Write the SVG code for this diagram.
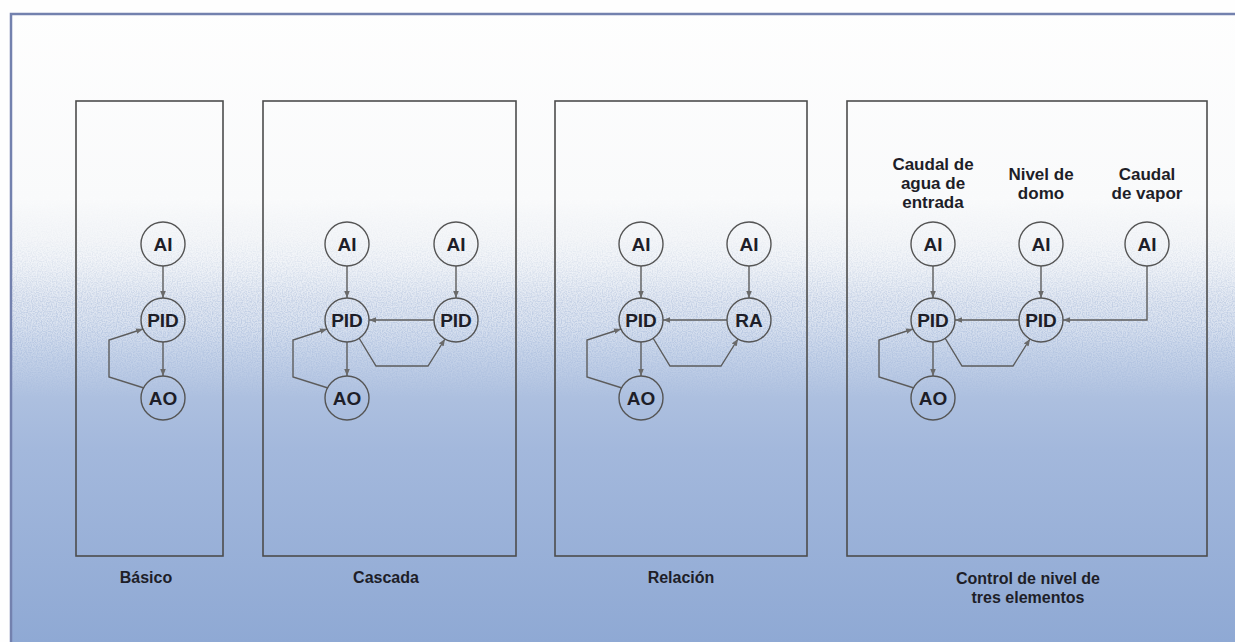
<svg xmlns="http://www.w3.org/2000/svg" width="1235" height="642" viewBox="0 0 1235 642">
<defs>
<linearGradient id="bg" x1="0" y1="0" x2="0" y2="642" gradientUnits="userSpaceOnUse">
<stop offset="0" stop-color="#fefefe"/>
<stop offset="0.31" stop-color="#f9fafb"/>
<stop offset="0.37" stop-color="#eef1f5"/>
<stop offset="0.42" stop-color="#dce3ee"/>
<stop offset="0.47" stop-color="#c6d2e6"/>
<stop offset="0.55" stop-color="#b5c6e2"/>
<stop offset="0.7" stop-color="#a3b8dc"/>
<stop offset="1" stop-color="#8fa9d4"/>
</linearGradient>
<linearGradient id="bandG" x1="0" y1="0" x2="0" y2="642" gradientUnits="userSpaceOnUse">
<stop offset="0.3" stop-color="#fff" stop-opacity="0"/>
<stop offset="0.4" stop-color="#fff" stop-opacity="1"/>
<stop offset="0.5" stop-color="#fff" stop-opacity="0.8"/>
<stop offset="0.62" stop-color="#fff" stop-opacity="0"/>
</linearGradient>
<mask id="bandM"><rect x="0" y="0" width="1235" height="642" fill="url(#bandG)"/></mask>
<filter id="speck" x="0" y="0" width="100%" height="100%">
<feTurbulence type="fractalNoise" baseFrequency="0.8" numOctaves="1" seed="4" result="n"/>
<feColorMatrix in="n" type="matrix" values="0 0 0 0 1  0 0 0 0 1  0 0 0 0 1  0 0 0 -3.2 2.2"/>
</filter>
<marker id="arr" viewBox="0 0 10 10" refX="10" refY="5" markerWidth="7" markerHeight="7" markerUnits="userSpaceOnUse" orient="auto">
<path d="M0,1 L10,5 L0,9 z" fill="#6a6a6a"/>
</marker>
<style>
.panel{fill:none;stroke:#4d4d4d;stroke-width:1.6}
.node circle{fill:none;stroke:#555;stroke-width:1.4}
.node text{font-family:"Liberation Sans",Arial,sans-serif;font-weight:bold;font-size:19px;fill:#1e1e28;text-anchor:middle}
.lbl{font-family:"Liberation Sans",Arial,sans-serif;font-weight:bold;font-size:17px;fill:#1e1e28;text-anchor:middle}
.blbl{font-family:"Liberation Sans",Arial,sans-serif;font-weight:bold;font-size:16px;fill:#1e1e28;text-anchor:middle}
.conn path{fill:none;stroke:#5c5c5c;stroke-width:1.4;marker-end:url(#arr)}
</style>
</defs>
<rect x="0" y="0" width="1235" height="642" fill="#fefefe"/>
<rect x="11" y="14" width="1230" height="640" fill="url(#bg)"/>
<g mask="url(#bandM)" opacity="0.55"><rect x="11" y="14" width="1224" height="628" filter="url(#speck)"/></g>
<path d="M11,650 L11,14 L1235,14" fill="none" stroke="#7381ae" stroke-width="2.5"/>

<g id="panels">
<rect class="panel" x="76" y="101" width="147" height="455"/>
<rect class="panel" x="263" y="101" width="253" height="455"/>
<rect class="panel" x="555" y="101" width="252" height="455"/>
<rect class="panel" x="847" y="101" width="360" height="455"/>
</g>

<g id="connectors" class="conn">
<!-- Panel 1 -->
<path d="M163,266 L163,298"/>
<path d="M163,342 L163,376"/>
<path d="M144,388 L109,377 L109,340 L143,329"/>
<!-- Panel 2 -->
<path d="M359,338 L376,366 L428,366 L445,339"/>
<path d="M347,266 L347,298"/>
<path d="M456,266 L456,298"/>
<path d="M434,320 L369,320"/>
<path d="M347,342 L347,376"/>
<path d="M328,388 L293,377 L293,340 L327,329"/>
<!-- Panel 3 -->
<path d="M641,266 L641,298"/>
<path d="M749,266 L749,298"/>
<path d="M727,320 L663,320"/>
<path d="M653,338 L670,366 L721,366 L738,339"/>
<path d="M641,342 L641,376"/>
<path d="M622,388 L587,377 L587,340 L621,329"/>
<!-- Panel 4 -->
<path d="M933,266 L933,298"/>
<path d="M1041,266 L1041,298"/>
<path d="M1147,266 L1147,320 L1063,320"/>
<path d="M1019,320 L955,320"/>
<path d="M945,338 L962,366 L1013,366 L1030,339"/>
<path d="M933,342 L933,376"/>
<path d="M914,388 L879,377 L879,340 L913,329"/>
</g>

<g id="p1-ai" class="node"><circle cx="163" cy="244" r="22"/><text x="163" y="251">AI</text></g>
<g id="p1-pid" class="node"><circle cx="163" cy="320" r="22"/><text x="163" y="327">PID</text></g>
<g id="p1-ao" class="node"><circle cx="163" cy="398" r="22"/><text x="163" y="405">AO</text></g>

<g id="p2-ai1" class="node"><circle cx="347" cy="244" r="22"/><text x="347" y="251">AI</text></g>
<g id="p2-ai2" class="node"><circle cx="456" cy="244" r="22"/><text x="456" y="251">AI</text></g>
<g id="p2-pid1" class="node"><circle cx="347" cy="320" r="22"/><text x="347" y="327">PID</text></g>
<g id="p2-pid2" class="node"><circle cx="456" cy="320" r="22"/><text x="456" y="327">PID</text></g>
<g id="p2-ao" class="node"><circle cx="347" cy="398" r="22"/><text x="347" y="405">AO</text></g>

<g id="p3-ai1" class="node"><circle cx="641" cy="244" r="22"/><text x="641" y="251">AI</text></g>
<g id="p3-ai2" class="node"><circle cx="749" cy="244" r="22"/><text x="749" y="251">AI</text></g>
<g id="p3-pid" class="node"><circle cx="641" cy="320" r="22"/><text x="641" y="327">PID</text></g>
<g id="p3-ra" class="node"><circle cx="749" cy="320" r="22"/><text x="749" y="327">RA</text></g>
<g id="p3-ao" class="node"><circle cx="641" cy="398" r="22"/><text x="641" y="405">AO</text></g>

<g id="p4-ai1" class="node"><circle cx="933" cy="244" r="22"/><text x="933" y="251">AI</text></g>
<g id="p4-ai2" class="node"><circle cx="1041" cy="244" r="22"/><text x="1041" y="251">AI</text></g>
<g id="p4-ai3" class="node"><circle cx="1147" cy="244" r="22"/><text x="1147" y="251">AI</text></g>
<g id="p4-pid1" class="node"><circle cx="933" cy="320" r="22"/><text x="933" y="327">PID</text></g>
<g id="p4-pid2" class="node"><circle cx="1041" cy="320" r="22"/><text x="1041" y="327">PID</text></g>
<g id="p4-ao" class="node"><circle cx="933" cy="398" r="22"/><text x="933" y="405">AO</text></g>

<g id="labels">
<text class="lbl" x="933" y="170">Caudal de</text>
<text class="lbl" x="933" y="189">agua de</text>
<text class="lbl" x="933" y="208">entrada</text>
<text class="lbl" x="1041" y="180">Nivel de</text>
<text class="lbl" x="1041" y="199">domo</text>
<text class="lbl" x="1147" y="180">Caudal</text>
<text class="lbl" x="1147" y="199">de vapor</text>
<text class="blbl" x="146" y="583">Básico</text>
<text class="blbl" x="386" y="583">Cascada</text>
<text class="blbl" x="681" y="583">Relación</text>
<text class="blbl" x="1028" y="584">Control de nivel de</text>
<text class="blbl" x="1028" y="603">tres elementos</text>
</g>
</svg>
